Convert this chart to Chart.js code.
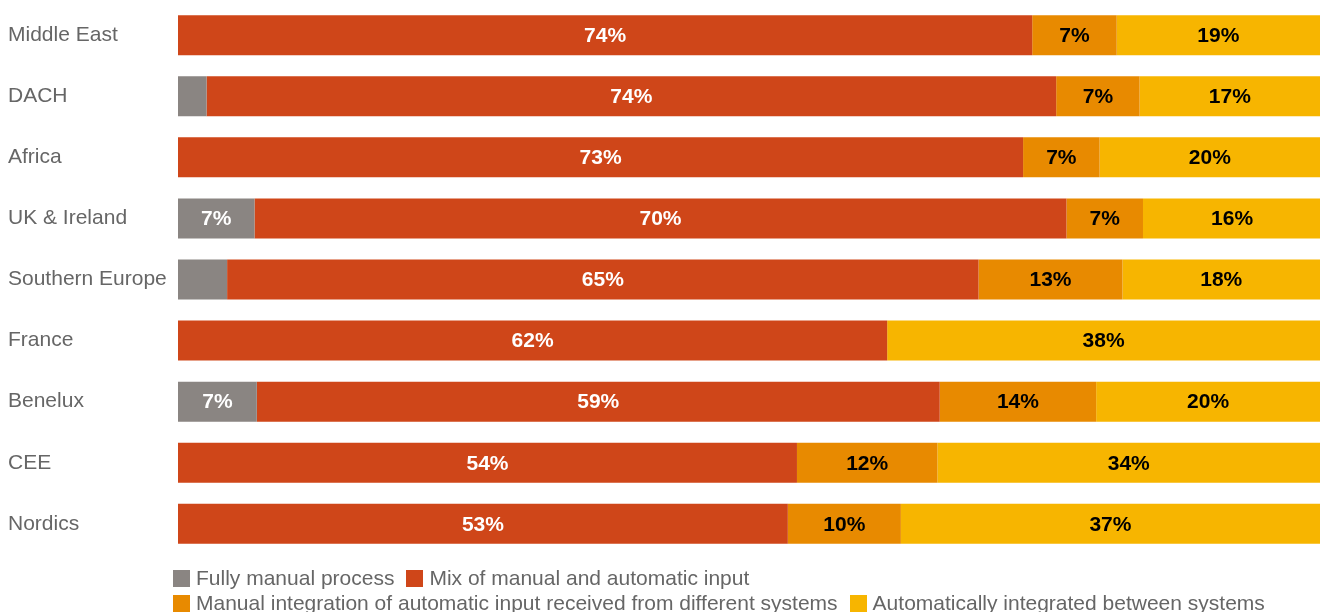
<!DOCTYPE html>
<html>
<head>
<meta charset="utf-8">
<script src="https://cdn.jsdelivr.net/npm/chart.js@4"></script>
<style>
  body { margin: 0; background: #fff; font-family: "Liberation Sans", Arial, sans-serif; overflow: hidden; }
  #wrap { position: absolute; top: -11px; left: 0; width: 1320px; height: 581px; }
  #legend { position: absolute; top: 565px; left: 173px; width: 1147px; font-size: 21px; line-height: 25px; color: #666; }
  .item { display: inline-block; margin-right: 12px; white-space: nowrap; }
  .box { display: inline-block; width: 17px; height: 17px; margin-right: 6px; vertical-align: -2px; }
</style>
</head>
<body>
<div id="wrap"><canvas id="chart"></canvas></div>
<div id="legend"></div>
<script>
// categories and series (share of bar)
var regions = ["Middle East", "DACH", "Africa", "UK & Ireland", "Southern Europe", "France", "Benelux", "CEE", "Nordics"];
var fullyManual = [0, 2.5, 0, 6.7, 4.3, 0, 6.9, 0, 0];
var mixInput = [74.8, 74.4, 74.0, 71.1, 65.8, 62.1, 59.8, 54.2, 53.4];
var manualIntegration = [7.4, 7.3, 6.7, 6.7, 12.6, 0, 13.7, 12.3, 9.9];
var autoIntegrated = [17.8, 15.8, 19.3, 15.6, 17.3, 37.9, 19.6, 33.5, 36.7];

// printed labels
var fullyManualLabels = ["", "", "", "7%", "", "", "7%", "", ""];
var mixInputLabels = ["74%", "74%", "73%", "70%", "65%", "62%", "59%", "54%", "53%"];
var manualIntegrationLabels = ["7%", "7%", "7%", "7%", "13%", "", "14%", "12%", "10%"];
var autoIntegratedLabels = ["19%", "17%", "20%", "16%", "18%", "38%", "20%", "34%", "37%"];

var seriesNames = [
    "Fully manual process",
    "Mix of manual and automatic input",
    "Manual integration of automatic input received from different systems",
    "Automatically integrated between systems"
];
var seriesColors = ["#8a8582", "#cf4619", "#e88a00", "#f7b500"];
var labelColors = ["#ffffff", "#ffffff", "#000000", "#000000"];

var seriesData = [fullyManual, mixInput, manualIntegration, autoIntegrated];
var seriesLabels = [fullyManualLabels, mixInputLabels, manualIntegrationLabels, autoIntegratedLabels];

var datasets = [];
for (var i = 0; i < seriesNames.length; i++) {
    datasets.push({
        label: seriesNames[i],
        data: seriesData[i],
        backgroundColor: seriesColors[i],
        borderWidth: 0,
        barPercentage: 0.655,
        categoryPercentage: 1
    });
}

// draw the percentages in the middle of each segment
var segmentLabels = {
    id: 'segmentLabels',
    afterDatasetsDraw: function (chart) {
        var ctx = chart.ctx;
        ctx.save();
        ctx.font = 'bold 21px "Liberation Sans", Arial, sans-serif';
        ctx.textAlign = 'center';
        ctx.textBaseline = 'middle';
        chart.data.datasets.forEach(function (ds, di) {
            var meta = chart.getDatasetMeta(di);
            meta.data.forEach(function (bar, j) {
                var txt = seriesLabels[di][j];
                if (!txt) return;
                ctx.fillStyle = labelColors[di];
                ctx.fillText(txt, (bar.x + bar.base) / 2, bar.y + 1);
            });
        });
        ctx.restore();
    }
};

var ctx = document.getElementById('chart').getContext('2d');
window.myBar = new Chart(ctx, {
    type: 'bar',
    data: { labels: regions, datasets: datasets },
    options: {
        indexAxis: 'y',
        responsive: true,
        maintainAspectRatio: false,
        devicePixelRatio: 1,
        animation: false,
        layout: { padding: { left: 8, right: 0, top: 0, bottom: 0 } },
        plugins: { legend: { display: false }, tooltip: { enabled: false } },
        scales: {
            x: { stacked: true, min: 0, max: 100, display: false },
            y: {
                stacked: true,
                grid: { display: false },
                border: { display: false },
                ticks: {
                    crossAlign: 'far',
                    color: '#666',
                    font: { family: '"Liberation Sans", Arial, sans-serif', size: 21 }
                },
                afterFit: function (scale) { scale.width = 170; }
            }
        }
    },
    plugins: [segmentLabels]
});

// legend underneath
var legend = document.getElementById('legend');
for (var k = 0; k < seriesNames.length; k++) {
    var item = document.createElement('span');
    item.className = 'item';
    var box = document.createElement('span');
    box.className = 'box';
    box.style.background = seriesColors[k];
    item.appendChild(box);
    item.appendChild(document.createTextNode(seriesNames[k]));
    legend.appendChild(item);
}
</script>
</body>
</html>
